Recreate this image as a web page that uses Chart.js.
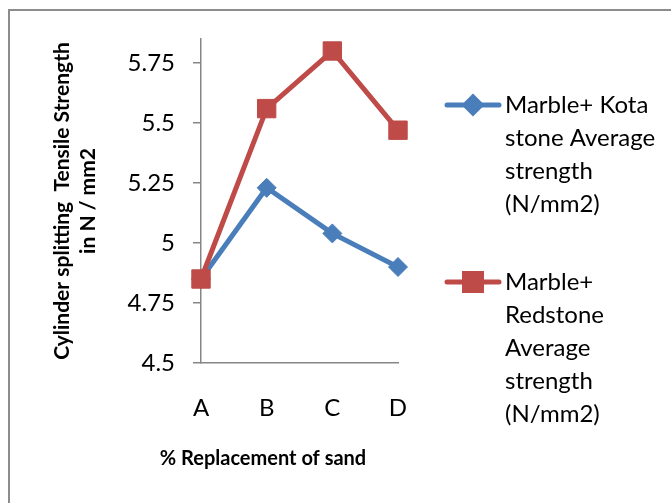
<!DOCTYPE html>
<html><head><meta charset="utf-8">
<script src="https://cdn.jsdelivr.net/npm/chart.js@4.4.1/dist/chart.umd.min.js"></script>
<style>html,body{margin:0;padding:0;background:#fff;overflow:hidden}#wrap{position:relative;width:671px;height:503px}</style>
</head><body><div id="wrap"><canvas id="c" width="671" height="503"></canvas></div>
<script>
const categories = ['A', 'B', 'C', 'D'];
const kotaValues = [4.85, 5.23, 5.04, 4.90];
const redstoneValues = [4.85, 5.56, 5.80, 5.47];
const yTickValues = [4.5, 4.75, 5, 5.25, 5.5, 5.75];
const yTickLabels = ['4.5', '4.75', '5', '5.25', '5.5', '5.75'];
const kotaLabel = ['Marble+ Kota', 'stone Average', 'strength', '(N/mm2)'];
const redstoneLabel = ['Marble+', 'Redstone', 'Average', 'strength', '(N/mm2)'];
const yTitle = ['Cylinder splitting  Tensile Strength', 'in N / mm2'];
const xTitle = '% Replacement of sand';

const FONT = 'Lato';
const BLUE = '#4A7EBB';
const RED = '#BE4B48';
const AXIS = '#868686';

const framePlugin = {
  id: 'frame',
  beforeDraw(chart) {
    const ctx = chart.ctx;
    ctx.save();
    ctx.fillStyle = '#fff';
    ctx.fillRect(0, 0, chart.width, chart.height);
    ctx.strokeStyle = '#8c8c8c';
    ctx.lineWidth = 2;
    ctx.beginPath();
    ctx.moveTo(9, chart.height + 2);
    ctx.lineTo(9, 10);
    ctx.lineTo(chart.width + 2, 10);
    ctx.stroke();
    ctx.restore();
  }
};

const extrasPlugin = {
  id: 'extras',
  afterDraw(chart) {
    const ctx = chart.ctx;
    ctx.save();
    ctx.fillStyle = '#000';
    ctx.font = 'bold 20px ' + FONT;
    ctx.textAlign = 'center';
    ctx.textBaseline = 'middle';
    ctx.fillText(xTitle, 263, 459);
    const legendItems = [
      { ds: 0, lines: kotaLabel, y: 105 },
      { ds: 1, lines: redstoneLabel, y: 282 }
    ];
    ctx.font = '24px ' + FONT;
    ctx.textAlign = 'left';
    legendItems.forEach(item => {
      const ds = chart.data.datasets[item.ds];
      ctx.strokeStyle = ds.borderColor;
      ctx.lineWidth = ds.borderWidth;
      ctx.lineCap = 'round';
      ctx.beginPath();
      ctx.moveTo(447, item.y);
      ctx.lineTo(499, item.y);
      ctx.stroke();
      ctx.fillStyle = ds.pointBackgroundColor;
      ctx.strokeStyle = ds.pointBorderColor;
      Chart.helpers.drawPoint(ctx, {
        pointStyle: ds.pointStyle,
        radius: ds.legendRadius,
        borderWidth: 1
      }, 473, item.y);
      ctx.fillStyle = '#000';
      item.lines.forEach((t, i) => ctx.fillText(t, 505, item.y + i * 33));
    });
    ctx.restore();
  }
};

new Chart(document.getElementById('c'), {
  type: 'line',
  data: {
    labels: categories,
    datasets: [
      {
        label: kotaLabel.join(' '),
        data: kotaValues,
        order: 1,
        borderColor: BLUE,
        backgroundColor: BLUE,
        pointBackgroundColor: BLUE,
        pointBorderColor: BLUE,
        borderWidth: 5,
        pointStyle: 'rectRot',
        pointRadius: 9.5,
        pointBorderWidth: 1,
        legendRadius: 8,
        tension: 0,
        fill: false
      },
      {
        label: redstoneLabel.join(' '),
        data: redstoneValues,
        order: 0,
        borderColor: RED,
        backgroundColor: RED,
        pointBackgroundColor: RED,
        pointBorderColor: RED,
        borderWidth: 5,
        pointStyle: 'rect',
        pointRadius: 13,
        pointBorderWidth: 1,
        legendRadius: 12,
        tension: 0,
        fill: false
      }
    ]
  },
  options: {
    responsive: false,
    animation: false,
    devicePixelRatio: 1,
    layout: { padding: { left: 0, right: 273, top: 39, bottom: 0 } },
    plugins: {
      legend: { display: false },
      tooltip: { enabled: false },
      title: { display: false }
    },
    scales: {
      x: {
        type: 'category',
        offset: false,
        grid: { display: true, drawOnChartArea: false, drawTicks: false, color: AXIS },
        border: { display: true, color: AXIS, width: 1.5 },
        ticks: { color: '#000', font: { family: FONT, size: 24 }, padding: 31 },
        afterFit(scale) { scale.height = 140; }
      },
      y: {
        min: 4.5,
        max: 5.85,
        afterBuildTicks(scale) { scale.ticks = yTickValues.map(v => ({ value: v })); },
        grid: { display: true, drawOnChartArea: false, drawTicks: true, tickLength: 8, color: AXIS, lineWidth: 1.5 },
        border: { display: true, color: AXIS, width: 1.5 },
        ticks: {
          color: '#000',
          font: { family: FONT, size: 24 },
          padding: 18,
          callback(value) { const i = yTickValues.indexOf(value); return i >= 0 ? yTickLabels[i] : ''; }
        },
        title: {
          display: true,
          text: yTitle,
          color: '#000',
          font: { family: FONT, size: 21, weight: 'bold', lineHeight: 1.24 },
          padding: { top: 49, bottom: 0 }
        },
        afterFit(scale) { scale.width = 201; }
      }
    }
  },
  plugins: [framePlugin, extrasPlugin]
});
</script>
</body></html>
